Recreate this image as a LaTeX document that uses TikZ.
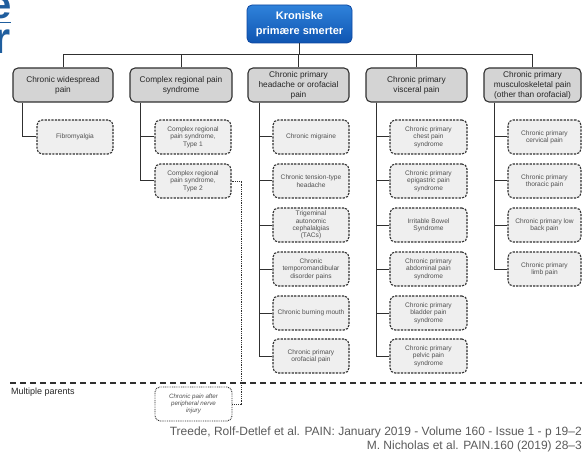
\documentclass[tikz,border=0pt]{standalone}
\usepackage{fontspec}
\setmainfont{Liberation Sans}
\definecolor{titleblue}{HTML}{1F5E9E}
\definecolor{boxblueT}{HTML}{2F82DA}
\definecolor{boxblueB}{HTML}{0F55B2}
\definecolor{boxblueD}{HTML}{0D47A1}
\definecolor{catfill}{HTML}{D4D4D4}
\definecolor{subfill}{HTML}{EFEFEF}
\definecolor{edge}{HTML}{303030}
\definecolor{subtext}{HTML}{505050}
\definecolor{reftext}{HTML}{5A5A5A}
\tikzset{
  rootbox/.style={draw=boxblueD, line width=0.8pt, rounded corners=5pt,
    top color=boxblueT, bottom color=boxblueB, text=white,
    minimum width=105pt, minimum height=38pt, align=center,
    font=\fontsize{11}{14.5}\selectfont\bfseries, inner sep=1pt},
  catbox/.style={draw=edge, line width=1.1pt, rounded corners=5pt, fill=catfill,
    minimum height=34pt, align=center, text=black!85,
    font=\fontsize{8.3}{10}\selectfont, inner sep=1pt},
  subbox/.style={draw=edge, line width=1.1pt, dash pattern=on 2.2pt off 1.2pt,
    rounded corners=5pt, fill=subfill, minimum height=34pt, minimum width=76pt,
    align=center, text=subtext, font=\fontsize{6.6}{7.4}\selectfont, inner sep=1pt},
  nervebox/.style={draw=edge, line width=0.9pt, dash pattern=on 0.9pt off 0.9pt,
    rounded corners=5pt, fill=white, minimum height=34pt, minimum width=77pt,
    align=center, text=subtext, font=\fontsize{6.2}{7.2}\selectfont\itshape, inner sep=1pt},
  conn/.style={draw=edge, line width=1pt},
  dotconn/.style={draw=edge, line width=0.9pt, dash pattern=on 0.9pt off 0.9pt},
  sepline/.style={draw=edge, line width=1.3pt, dash pattern=on 6pt off 4pt},
}
\begin{document}
\begin{tikzpicture}[x=1pt,y=-1pt]
\useasboundingbox (0,0) rectangle (582,452);

% title letters running off the left edge
\node[anchor=base east, inner sep=0pt, text=titleblue,
  font=\fontsize{40}{40}\selectfont\bfseries] (tle) at (12,19) {e};
\draw[titleblue, line width=1.6pt] (0,22.5) -- (11,22.5);
\node[anchor=base east, inner sep=0pt, text=titleblue,
  font=\fontsize{44}{44}\selectfont\bfseries] (tlr) at (11,54) {r};

% root
\node[rootbox] (root) at (299.5,24) {Kroniske\\primære smerter};

% categories
\node[catbox, minimum width=100pt] (c1) at (63,85) {Chronic widespread\\pain};
\node[catbox, minimum width=102pt] (c2) at (181,85) {Complex regional pain\\syndrome};
\node[catbox, minimum width=101pt] (c3) at (298.5,85) {Chronic primary\\headache or orofacial\\pain};
\node[catbox, minimum width=101pt] (c4) at (416.5,85) {Chronic primary\\visceral pain};
\node[catbox, minimum width=97pt] (c5) at (532.5,85) {Chronic primary\\musculoskeletal pain\\(other than orofacial)};

% tree bar
\coordinate (bar) at (0,55);
\draw[conn] (root.south) -- (root.south |- bar);
\draw[conn] (c1.north) -- (c1.north |- bar) -- (c5.north |- bar) -- (c5.north);
\foreach \c in {c2,c3,c4} \draw[conn] (\c.north) -- (\c.north |- bar);

% column 1
\node[subbox] (s11) at (75,137) {Fibromyalgia};
% column 2
\node[subbox] (s21) at (193,137) {Complex regional\\pain syndrome,\\Type 1};
\node[subbox] (s22) at (193,181) {Complex regional\\pain syndrome,\\Type 2};
% column 3
\node[subbox] (s31) at (311,137) {Chronic migraine};
\node[subbox] (s32) at (311,181) {Chronic tension-type\\headache};
\node[subbox] (s33) at (311,225) {Trigeminal\\autonomic\\cephalalgias\\(TACs)};
\node[subbox] (s34) at (311,269) {Chronic\\temporomandibular\\disorder pains};
\node[subbox] (s35) at (311,313) {Chronic burning mouth};
\node[subbox] (s36) at (311,356) {Chronic primary\\orofacial pain};
% column 4
\node[subbox, minimum width=77pt] (s41) at (428.5,137) {Chronic primary\\chest pain\\syndrome};
\node[subbox, minimum width=77pt] (s42) at (428.5,181) {Chronic primary\\epigastric pain\\syndrome};
\node[subbox, minimum width=77pt] (s43) at (428.5,225) {Irritable Bowel\\Syndrome};
\node[subbox, minimum width=77pt] (s44) at (428.5,269) {Chronic primary\\abdominal pain\\syndrome};
\node[subbox, minimum width=77pt] (s45) at (428.5,313) {Chronic primary\\bladder pain\\syndrome};
\node[subbox, minimum width=77pt] (s46) at (428.5,356) {Chronic primary\\pelvic pain\\syndrome};
% column 5
\node[subbox, minimum width=73pt] (s51) at (544.5,137) {Chronic primary\\cervical pain};
\node[subbox, minimum width=73pt] (s52) at (544.5,181) {Chronic primary\\thoracic pain};
\node[subbox, minimum width=73pt] (s53) at (544.5,225) {Chronic primary low\\back pain};
\node[subbox, minimum width=73pt] (s54) at (544.5,269) {Chronic primary\\limb pain};

% branch connectors
\draw[conn] ([xshift=10pt]c1.south west) |- (s11.west);
\foreach \s in {s21,s22} \draw[conn] ([xshift=11pt]c2.south west) |- (\s.west);
\foreach \s in {s31,s32,s33,s34,s35,s36} \draw[conn] ([xshift=12pt]c3.south west) |- (\s.west);
\foreach \s in {s41,s42,s43,s44,s45,s46} \draw[conn] ([xshift=11pt]c4.south west) |- (\s.west);
\foreach \s in {s51,s52,s53,s54} \draw[conn] ([xshift=11pt]c5.south west) |- (\s.west);

% multiple parents section
\draw[sepline] (10,383) -- (582,383);
\node[anchor=west, inner sep=0pt, text=black!85, font=\fontsize{9}{10}\selectfont] (mp) at (11,392) {Multiple parents};
\node[nervebox] (nerve) at (193.5,404) {Chronic pain after\\peripheral nerve\\injury};
\draw[dotconn] (s22.east) -- ++(10,0) coordinate (dk) |- (nerve.east);

% references
\node[anchor=east, inner sep=0pt, text=reftext, font=\fontsize{12}{14}\selectfont] (ref1) at (582,432)
  {Treede, Rolf-Detlef et al. PAIN: January 2019 - Volume 160 - Issue 1 - p 19–2};
\node[anchor=east, inner sep=0pt, text=reftext, font=\fontsize{12}{14}\selectfont] (ref2) at (582,446)
  {M. Nicholas et al. PAIN.160 (2019) 28–3};
\end{tikzpicture}
\end{document}
